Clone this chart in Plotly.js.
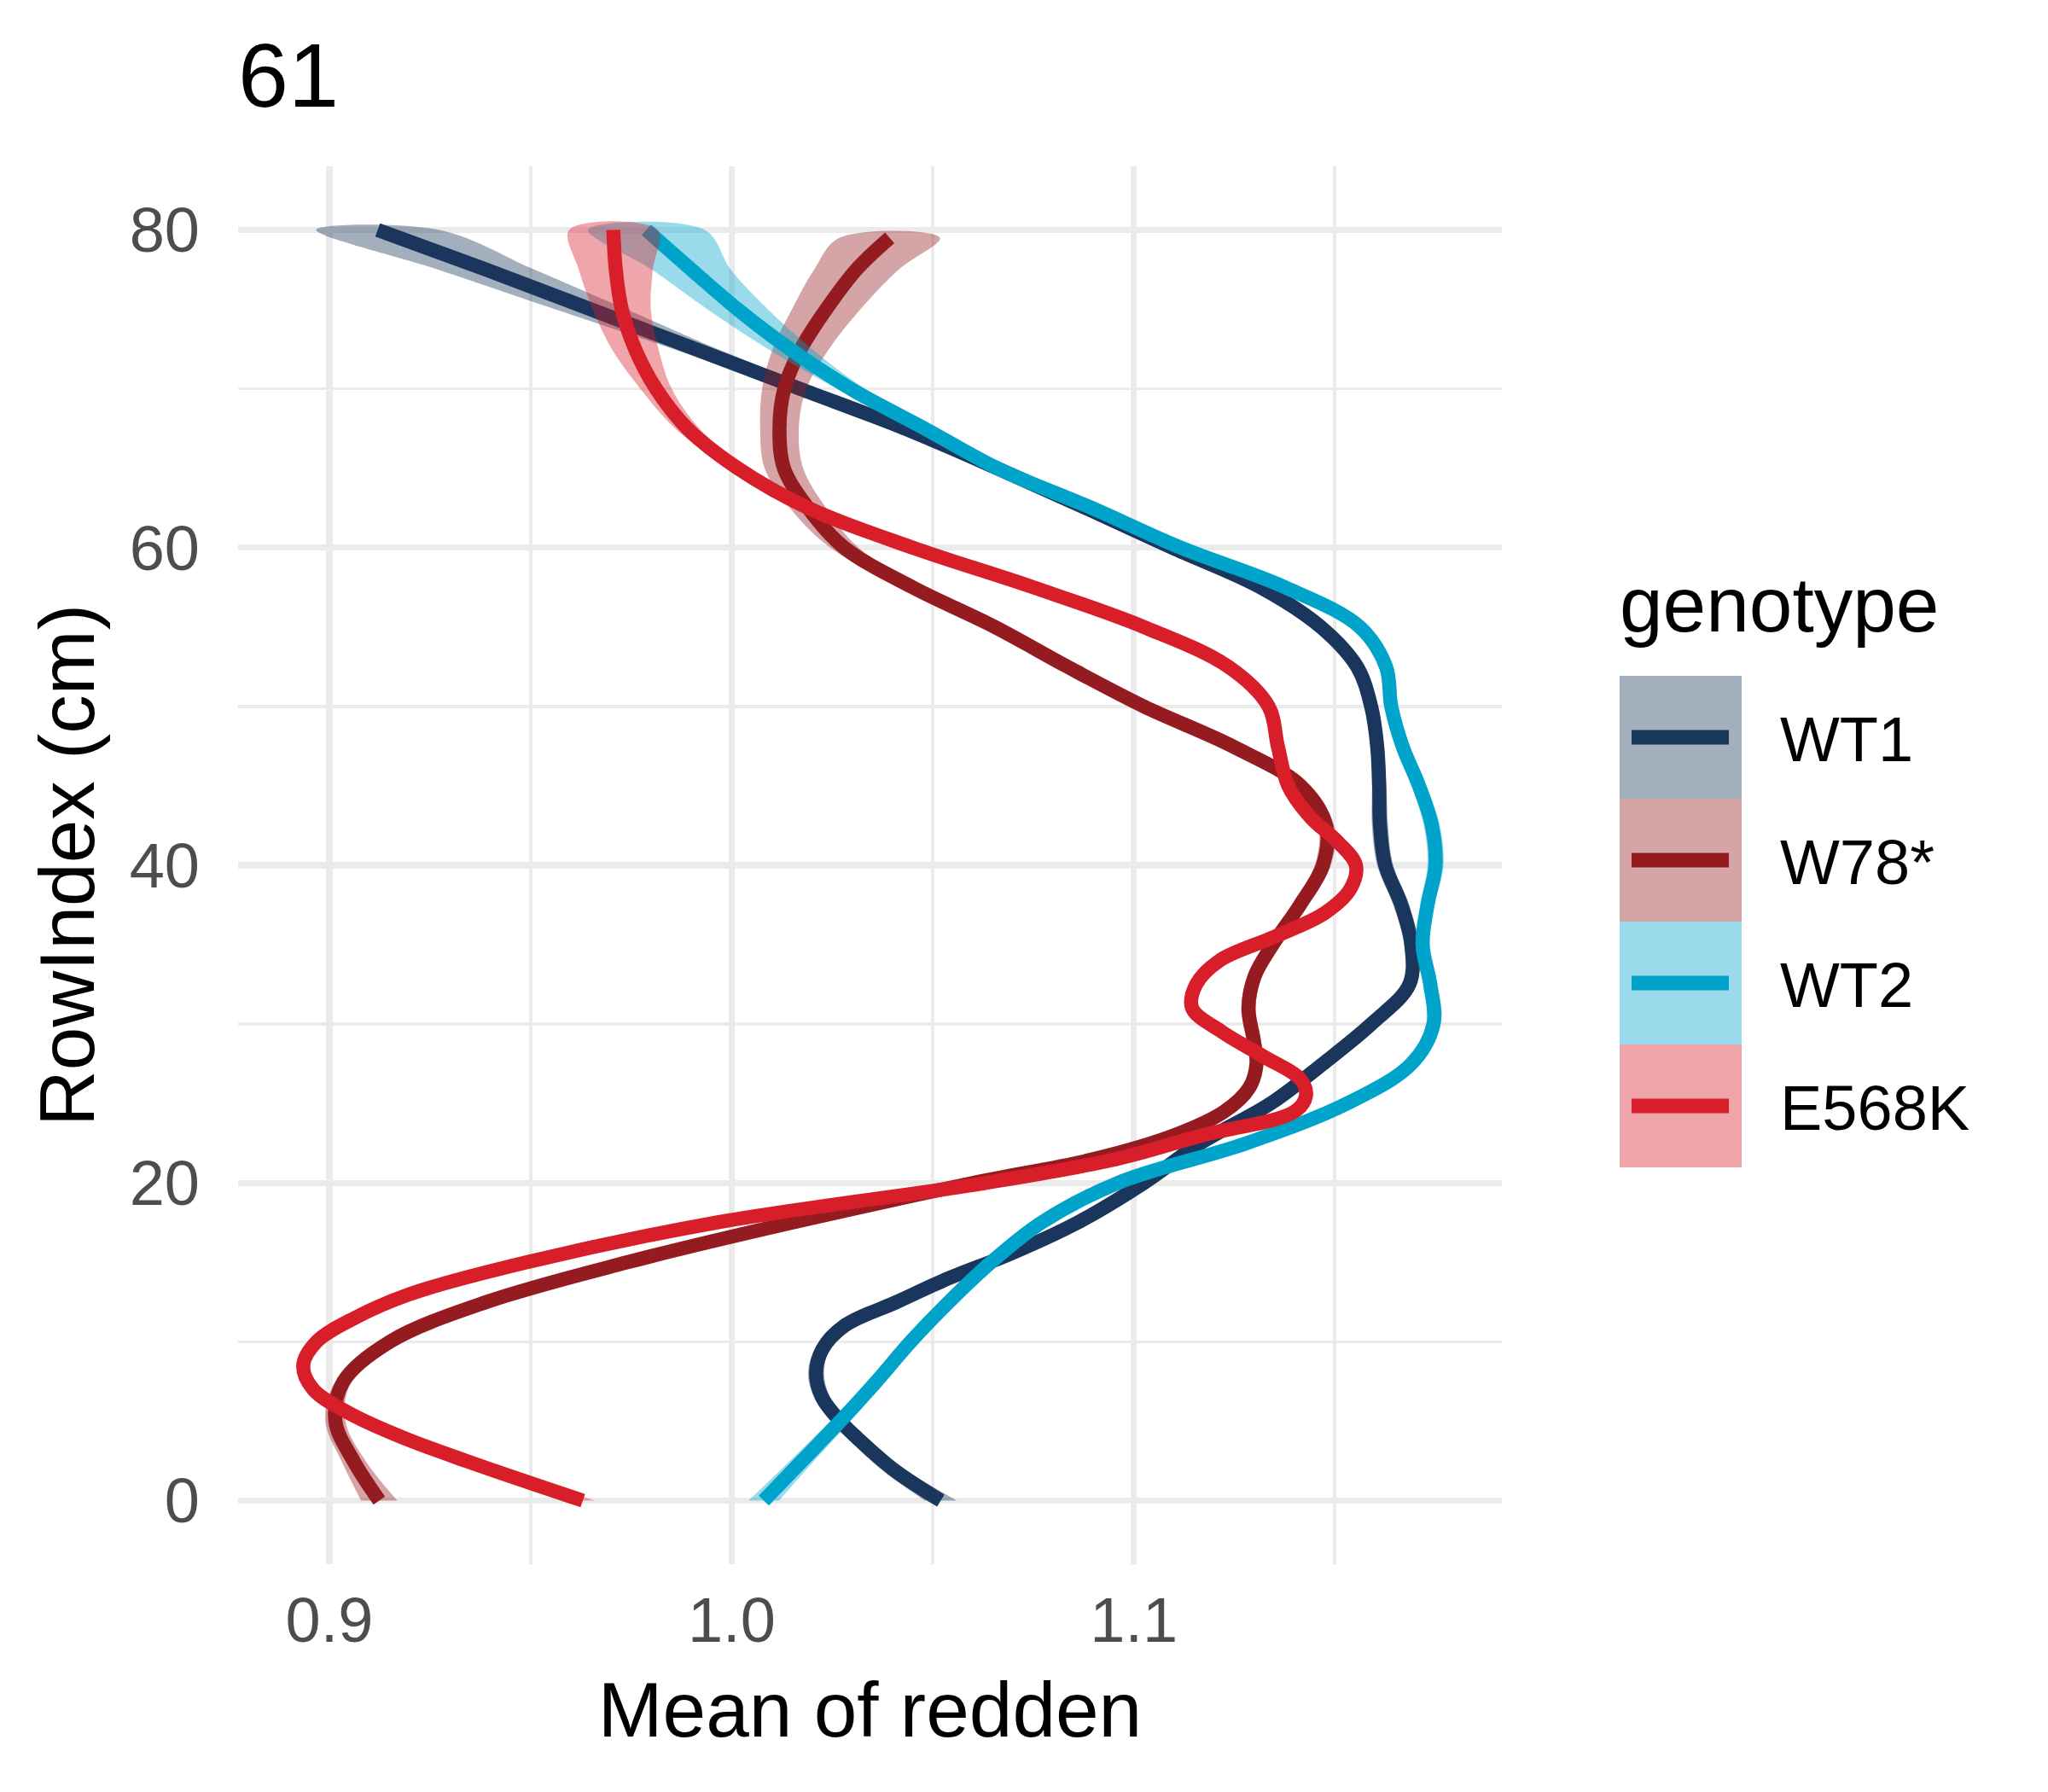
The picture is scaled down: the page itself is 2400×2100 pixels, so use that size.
<!DOCTYPE html>
<html>
<head>
<meta charset="utf-8">
<script src="https://cdn.plot.ly/plotly-3.0.1.min.js"></script>
<style>
html,body{margin:0;padding:0;background:#ffffff;}
#chart{width:2400px;height:2100px;}
</style>
</head>
<body>
<div id="chart"></div>
<script>
// ---------- data ----------
const genotypes = ['WT1', 'W78*', 'WT2', 'E568K'];
const lineColors = ['#1B365D', '#941B20', '#00A4CA', '#D81E28'];
const ribbonColors = ['rgba(27,54,93,0.4)', 'rgba(148,27,32,0.4)', 'rgba(0,164,202,0.4)', 'rgba(216,30,40,0.4)'];

const chartTitle = '61';
const xTitle = 'Mean of redden';
const yTitle = 'RowIndex (cm)';
const legendTitle = 'genotype';

// WT1
const rowWT1 = [0, 2, 4, 5, 6.5, 8, 9.5, 11, 12.5, 14, 15.5, 17.5, 20, 22.5, 25, 27.5, 30, 32.5, 35, 37.5, 40, 42.5, 45, 47.5, 50, 52.5, 55, 57.5, 60, 62.5, 65, 67.5, 70, 72.5, 75, 77.5, 80];
const meanWT1 = [1.052, 1.040, 1.031, 1.027, 1.0225, 1.021, 1.0225, 1.028, 1.041, 1.054, 1.069, 1.086, 1.1025, 1.1165, 1.134, 1.147, 1.159, 1.1685, 1.169, 1.1665, 1.1625, 1.1612, 1.161, 1.1605, 1.159, 1.1555, 1.1465, 1.1315, 1.1095, 1.088, 1.066, 1.043, 1.017, 0.991, 0.965, 0.939, 0.912];
const seWT1 = [0.004, 0.003, 0.0025, 0.002, 0.002, 0.002, 0.0018, 0.0016, 0.0015, 0.0015, 0.0015, 0.0015, 0.0015, 0.0015, 0.0015, 0.0015, 0.0015, 0.0016, 0.0018, 0.002, 0.002, 0.002, 0.0018, 0.0016, 0.0015, 0.0015, 0.0015, 0.0016, 0.0018, 0.0022, 0.0028, 0.0034, 0.0042, 0.0055, 0.0088, 0.012, 0.0153];

// W78*
const rowW78 = [0, 2.5, 5, 7.5, 10, 12.5, 15, 17.5, 20, 21.5, 23, 24.5, 26, 27.5, 29, 31, 33, 35, 37.5, 40, 42.5, 45, 47.5, 50, 52.5, 55, 57.5, 60, 62.5, 65, 67.5, 70, 72.5, 75, 77.5, 79.5];
const meanW78 = [0.9124, 0.906, 0.9015, 0.9035, 0.915, 0.939, 0.974, 1.015, 1.060, 1.090, 1.110, 1.1225, 1.1287, 1.1305, 1.1298, 1.1285, 1.130, 1.1345, 1.1413, 1.147, 1.1478, 1.1415, 1.1245, 1.1025, 1.0835, 1.0655, 1.045, 1.028, 1.019, 1.013, 1.0119, 1.0131, 1.0172, 1.0235, 1.031, 1.0393];
const seW78 = [0.0045, 0.003, 0.0025, 0.002, 0.0018, 0.0016, 0.0015, 0.0015, 0.0015, 0.0015, 0.0015, 0.0015, 0.0016, 0.0017, 0.0018, 0.0018, 0.0018, 0.0018, 0.0019, 0.002, 0.002, 0.0018, 0.0016, 0.0015, 0.0015, 0.002, 0.0025, 0.0035, 0.0045, 0.0048, 0.0048, 0.0055, 0.007, 0.0085, 0.0105, 0.0125];

// WT2
const rowWT2 = [0, 2.5, 5, 7.5, 10, 12.5, 15, 17.5, 20, 22.5, 25, 27.5, 30, 32.5, 35, 37.5, 40, 42.5, 45, 47.5, 50, 52.5, 55, 57.5, 60, 62.5, 65, 67.5, 70, 72.5, 75, 77.5, 80];
const meanWT2 = [1.008, 1.0175, 1.027, 1.036, 1.0445, 1.054, 1.0645, 1.077, 1.096, 1.128, 1.153, 1.169, 1.1745, 1.1737, 1.1718, 1.173, 1.175, 1.1741, 1.1709, 1.1668, 1.164, 1.1627, 1.1562, 1.1376, 1.1116, 1.0895, 1.066, 1.048, 1.0296, 1.0145, 1.0015, 0.990, 0.9788];
const seWT2 = [0.0038, 0.003, 0.0025, 0.002, 0.0018, 0.0016, 0.0015, 0.0015, 0.0015, 0.0015, 0.0015, 0.0016, 0.0018, 0.0018, 0.0018, 0.0018, 0.002, 0.002, 0.0018, 0.0016, 0.0015, 0.0015, 0.0015, 0.0015, 0.0015, 0.0016, 0.0018, 0.0022, 0.0035, 0.0055, 0.0075, 0.0098, 0.0145];

// E568K
const rowE568K = [0, 2.5, 4, 5.5, 7, 8.5, 10, 11.5, 13, 15, 17.5, 20, 21.5, 23, 24.5, 25.5, 26.5, 28, 29.5, 31, 32.5, 34, 35.5, 37, 38.5, 40, 41.5, 43, 45, 47.5, 50, 52.5, 55, 57.5, 60, 62.5, 65, 67.5, 70, 72.5, 75, 77.5, 80];
const meanE568K = [0.963, 0.934, 0.918, 0.905, 0.896, 0.8935, 0.8968, 0.9063, 0.920, 0.949, 0.996, 1.063, 1.0955, 1.117, 1.140, 1.1428, 1.1415, 1.132, 1.122, 1.1145, 1.1155, 1.1213, 1.135, 1.1475, 1.1538, 1.1552, 1.1506, 1.144, 1.1384, 1.1358, 1.1335, 1.1235, 1.1025, 1.075, 1.045, 1.019, 1.0015, 0.989, 0.9812, 0.976, 0.9727, 0.9712, 0.9706];
const seE568K = [0.003, 0.002, 0.0018, 0.0016, 0.0015, 0.0015, 0.0015, 0.0015, 0.0015, 0.0015, 0.0015, 0.0015, 0.0015, 0.0015, 0.0015, 0.0015, 0.0015, 0.0015, 0.0015, 0.0015, 0.0015, 0.0015, 0.0015, 0.0015, 0.0015, 0.0015, 0.0015, 0.0015, 0.0015, 0.0015, 0.0015, 0.0015, 0.0015, 0.0015, 0.0015, 0.0018, 0.0022, 0.003, 0.0039, 0.0058, 0.0072, 0.0092, 0.011];

const xTickVals = [0.9, 1.0, 1.1];
const xTickText = ['0.9', '1.0', '1.1'];
const yTickVals = [0, 20, 40, 60, 80];
const yTickText = ['0', '20', '40', '60', '80'];

// ---------- build ----------
const series = [
  {name: genotypes[0], y: rowWT1, x: meanWT1, se: seWT1},
  {name: genotypes[1], y: rowW78, x: meanW78, se: seW78},
  {name: genotypes[2], y: rowWT2, x: meanWT2, se: seWT2},
  {name: genotypes[3], y: rowE568K, x: meanE568K, se: seE568K}
];

const FONT = '"Liberation Sans", Arial, Helvetica, sans-serif';
const W = 2400, H = 2100;
const M = {l: 279, r: 640, t: 195, b: 267};
const pw = W - M.l - M.r, ph = H - M.t - M.b;
const px2x = p => (p - M.l) / pw;
const py2y = p => (H - M.b - p) / ph;

const traces = [];
series.forEach((s, i) => {
  const lo = s.x.map((v, k) => v - s.se[k]);
  const hi = s.x.map((v, k) => v + s.se[k]);
  traces.push({
    type: 'scatter', mode: 'lines', name: s.name + ' band',
    x: lo.concat(hi.slice().reverse()),
    y: s.y.concat(s.y.slice().reverse()),
    fill: 'toself', fillcolor: ribbonColors[i],
    line: {width: 0, shape: 'spline', smoothing: 1},
    hoverinfo: 'skip', showlegend: false
  });
  traces.push({
    type: 'scatter', mode: 'lines', name: s.name,
    x: s.x, y: s.y,
    line: {color: lineColors[i], width: 16.5, shape: 'spline', smoothing: 1},
    showlegend: false
  });
});

// manual legend (ggplot style keys)
const shapes = [];
const annotations = [];
const keyL = 1898, keyR = 2041, keyTop = 792, keyH = 144;
genotypes.forEach((g, i) => {
  const top = keyTop + i * keyH, bot = top + keyH, mid = top + keyH / 2;
  shapes.push({type: 'rect', xref: 'paper', yref: 'paper',
    x0: px2x(keyL), x1: px2x(keyR), y0: py2y(bot), y1: py2y(top),
    fillcolor: ribbonColors[i], line: {width: 0}, layer: 'above'});
  shapes.push({type: 'line', xref: 'paper', yref: 'paper',
    x0: px2x(1912), x1: px2x(2026), y0: py2y(mid), y1: py2y(mid),
    line: {color: lineColors[i], width: 17}, layer: 'above'});
  annotations.push({xref: 'paper', yref: 'paper', x: px2x(2084), y: py2y(mid + 2),
    xanchor: 'left', yanchor: 'middle', showarrow: false, text: g,
    font: {family: FONT, size: 74, color: '#000000'}});
});
annotations.push({xref: 'paper', yref: 'paper', x: px2x(1896), y: py2y(708),
  xanchor: 'left', yanchor: 'middle', showarrow: false, text: legendTitle,
  font: {family: FONT, size: 91, color: '#000000'}});

const layout = {
  width: W, height: H,
  margin: M,
  paper_bgcolor: '#ffffff', plot_bgcolor: '#ffffff',
  font: {family: FONT, color: '#000000'},
  showlegend: false,
  title: {text: chartTitle, x: 0, xref: 'paper', xanchor: 'left',
    y: 1 - 88 / H, yref: 'container', yanchor: 'middle',
    font: {family: FONT, size: 106, color: '#000000'}},
  xaxis: {
    range: [0.8773, 1.1915], tickvals: xTickVals, ticktext: xTickText,
    ticks: '', showline: false, zeroline: false,
    showgrid: true, gridcolor: '#EBEBEB', gridwidth: 7.5,
    minor: {dtick: 0.05, tick0: 0.9, showgrid: true, gridcolor: '#EBEBEB', gridwidth: 3.8, ticks: ''},
    tickfont: {family: FONT, size: 74, color: '#4D4D4D'},
    ticklabelstandoff: 16,
    title: {text: xTitle, standoff: 32, font: {family: FONT, size: 91, color: '#000000'}},
    automargin: false, fixedrange: true
  },
  yaxis: {
    range: [-4, 84], tickvals: yTickVals, ticktext: yTickText,
    ticks: '', showline: false, zeroline: false,
    showgrid: true, gridcolor: '#EBEBEB', gridwidth: 7.5,
    minor: {dtick: 10, tick0: 0, showgrid: true, gridcolor: '#EBEBEB', gridwidth: 3.8, ticks: ''},
    tickfont: {family: FONT, size: 74, color: '#4D4D4D'},
    ticklabelstandoff: 44,
    title: {text: yTitle, standoff: 10, font: {family: FONT, size: 91, color: '#000000'}},
    automargin: false, fixedrange: true
  },
  shapes: shapes,
  annotations: annotations
};

Plotly.newPlot('chart', traces, layout, {staticPlot: true, displayModeBar: false});
</script>
</body>
</html>
